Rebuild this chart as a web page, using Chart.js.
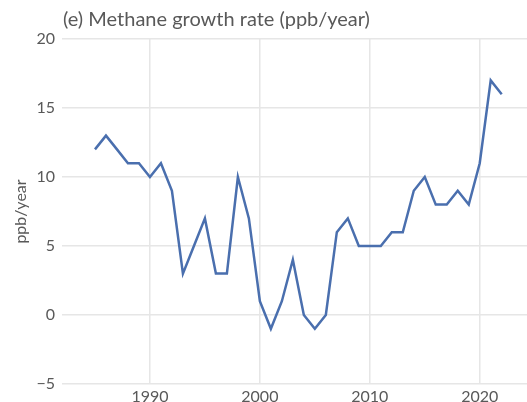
<!DOCTYPE html>
<html>
<head>
<meta charset="utf-8">
<script src="https://cdn.jsdelivr.net/npm/chart.js@4"></script>
<style>
  html, body { margin: 0; padding: 0; background: #fff; overflow: hidden; }
  #wrap { width: 527px; height: 402px; }
</style>
</head>
<body>
<div id="wrap"><canvas id="c" width="527" height="402"></canvas></div>
<script>
// Annual methane growth rate, ppb/year
const years = [1985, 1986, 1987, 1988, 1989, 1990, 1991, 1992, 1993, 1994,
               1995, 1996, 1997, 1998, 1999, 2000, 2001, 2002, 2003, 2004,
               2005, 2006, 2007, 2008, 2009, 2010, 2011, 2012, 2013, 2014,
               2015, 2016, 2017, 2018, 2019, 2020, 2021, 2022];
const growth = [12, 13, 12, 11, 11, 10, 11, 9, 3, 5,
                7, 3, 3, 10, 7, 1, -1, 1, 4, 0,
                -1, 0, 6, 7, 5, 5, 5, 6, 6, 9,
                10, 8, 8, 9, 8, 11, 17, 16];
const xTicks = [1990, 2000, 2010, 2020];
const yTicks = [-5, 0, 5, 10, 15, 20];

const TEXT = '#595959';
const GRID = '#e6e6e6';
const FONT = 'Lato, "Open Sans", sans-serif';

// Panel heading drawn flush with the plot's left edge
const panelTitle = {
  id: 'panelTitle',
  afterDraw(chart) {
    const ctx = chart.ctx;
    ctx.save();
    ctx.fillStyle = TEXT;
    ctx.font = '20px ' + FONT;
    ctx.textBaseline = 'middle';
    ctx.textAlign = 'left';
    ctx.fillText('(e) Methane growth rate (ppb/year)', chart.chartArea.left + 1, 20);
    ctx.restore();
  }
};

new Chart(document.getElementById('c'), {
  type: 'line',
  data: {
    datasets: [{
      data: years.map((y, i) => ({ x: y, y: growth[i] })),
      borderColor: '#4a6fae',
      borderWidth: 2.5,
      pointRadius: 0,
      tension: 0,
      fill: false
    }]
  },
  options: {
    responsive: false,
    animation: false,
    layout: { padding: { top: 39, right: 0, left: 0, bottom: 0 } },
    plugins: { legend: { display: false }, tooltip: { enabled: false } },
    scales: {
      x: {
        type: 'linear',
        min: 1982,
        max: 2024.3,
        border: { display: false },
        grid: { color: GRID, lineWidth: 1.5, drawTicks: false },
        afterBuildTicks: s => { s.ticks = xTicks.map(v => ({ value: v })); },
        afterFit: s => { s.height = 18; },
        ticks: {
          color: TEXT, padding: 3,
          font: { family: FONT, size: 16 },
          callback: v => String(v)
        }
      },
      y: {
        min: -5,
        max: 20,
        border: { display: false },
        grid: { color: GRID, lineWidth: 1.5, drawTicks: false },
        afterBuildTicks: s => { s.ticks = yTicks.map(v => ({ value: v })); },
        afterFit: s => { s.width = 62; },
        title: {
          display: true, text: 'ppb/year', color: TEXT,
          font: { family: FONT, size: 16 },
          padding: { top: 11, bottom: 0 }
        },
        ticks: {
          color: TEXT, padding: 7,
          font: { family: FONT, size: 16 },
          callback: v => v < 0 ? '\u2212' + Math.abs(v) : String(v)
        }
      }
    }
  },
  plugins: [panelTitle]
});
</script>
</body>
</html>
